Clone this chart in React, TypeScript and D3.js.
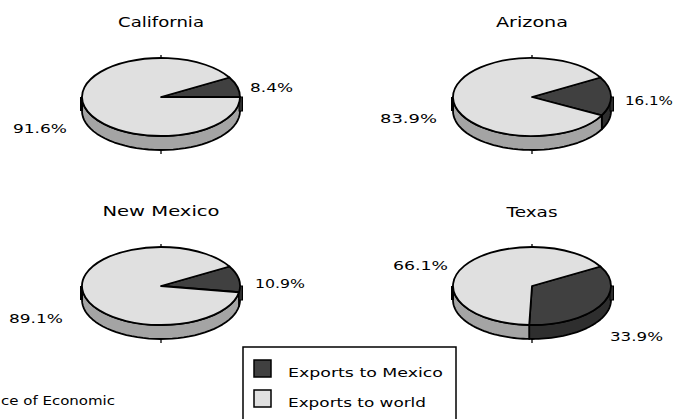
import React from "react";
import * as d3 from "d3";

const states = ["California", "Arizona", "New Mexico", "Texas"];
const exportsToMexico = [8.4, 16.1, 10.9, 33.9];
const exportsToWorld = [91.6, 83.9, 89.1, 66.1];
const seriesNames = ["Exports to Mexico", "Exports to world"];
const sourceText = "ce of Economic";

const W = 678;
const H = 419;
const RX = 79;
const RY = 39;
const DEPTH = 14;
const START = Math.PI / 3;

const topColors = ["#404040", "#e0e0e0"];
const sideColors = ["#2e2e2e", "#a4a4a4"];
const FONT = "'DejaVu Sans', Verdana, sans-serif";

// layout only (positions of panels and text)
const panelLayout = [
  { cx: 161, cy: 97, titleY: 27, titleLen: 86, mx: 250, my: 92, mLen: 43, wx: 13, wy: 133, wLen: 54 },
  { cx: 532, cy: 97, titleY: 27, titleLen: 72, mx: 625, my: 105, mLen: 48, wx: 380, wy: 123, wLen: 57 },
  { cx: 161, cy: 286, titleY: 216, titleLen: 117, mx: 255, my: 288, mLen: 50, wx: 9, wy: 323, wLen: 54 },
  { cx: 532, cy: 286, titleY: 217, titleLen: 51, mx: 610, my: 341, mLen: 53, wx: 393, wy: 270, wLen: 55 },
];

const pie = d3
  .pie<number>()
  .sort(null)
  .value((d) => d)
  .startAngle(START)
  .endAngle(START + 2 * Math.PI);

const arc = d3.arc<d3.PieArcDatum<number>>().innerRadius(0).outerRadius(RX);

function ex(t: number) {
  return Math.sin(t) * RX;
}
function ey(t: number) {
  return -Math.cos(t) * RY;
}

function sidePath(a: number, b: number) {
  const n = 40;
  const pts: [number, number][] = [];
  for (let i = 0; i <= n; i++) {
    const t = a + ((b - a) * i) / n;
    pts.push([ex(t), ey(t)]);
  }
  for (let i = n; i >= 0; i--) {
    const t = a + ((b - a) * i) / n;
    pts.push([ex(t), ey(t) + DEPTH]);
  }
  return d3.line()(pts)! + "Z";
}

function Pie3D({ i }: { i: number }) {
  const L = panelLayout[i];
  const arcs = pie([exportsToMexico[i], exportsToWorld[i]]);
  const frontA = Math.PI / 2;
  const frontB = (3 * Math.PI) / 2;
  const sides = arcs
    .map((d, k) => {
      const a = Math.max(d.startAngle, frontA);
      const b = Math.min(d.endAngle, frontB);
      return b > a ? { k, a, b } : null;
    })
    .filter(Boolean) as { k: number; a: number; b: number }[];
  const rightSideColor = sides.length ? sideColors[sides[0].k] : sideColors[1];
  return (
    <g>
      <text
        x={L.cx}
        y={L.titleY}
        textAnchor="middle"
        fontSize={14}
        fontFamily={FONT}
        textLength={L.titleLen}
        lengthAdjust="spacingAndGlyphs"
      >
        {states[i]}
      </text>
      <g transform={`translate(${L.cx},${L.cy})`}>
        <line x1={0} x2={0} y1={-RY - 3} y2={-RY + 2} stroke="#000" strokeWidth={1.3} />
        <line x1={0} x2={0} y1={RY + DEPTH - 3} y2={RY + DEPTH + 4} stroke="#000" strokeWidth={1.3} />
        {sides.map((s) => (
          <path
            key={"s" + s.k}
            d={sidePath(s.a, s.b)}
            fill={sideColors[s.k]}
            stroke="#000"
            strokeWidth={1.8}
            strokeLinejoin="round"
          />
        ))}
        <rect x={-RX - 2} y={0} width={3} height={DEPTH} fill="#000" />
        <rect x={RX - 1} y={0} width={3.5} height={DEPTH} fill={rightSideColor} stroke="#000" strokeWidth={1} />
        <g transform={`scale(1,${RY / RX})`}>
          {arcs.map((d, k) => (
            <path
              key={"t" + k}
              d={arc(d)!}
              fill={topColors[k]}
              stroke="#000"
              strokeWidth={1.8}
              vectorEffect="non-scaling-stroke"
              strokeLinejoin="round"
            />
          ))}
        </g>
      </g>
      <text x={L.mx} y={L.my} fontSize={13} fontFamily={FONT} textLength={L.mLen} lengthAdjust="spacingAndGlyphs">
        {exportsToMexico[i].toFixed(1)}%
      </text>
      <text x={L.wx} y={L.wy} fontSize={13} fontFamily={FONT} textLength={L.wLen} lengthAdjust="spacingAndGlyphs">
        {exportsToWorld[i].toFixed(1)}%
      </text>
    </g>
  );
}

export default function App() {
  const legendLens = [155, 138];
  return (
    <svg
      width={W}
      height={H}
      viewBox={`0 0 ${W} ${H}`}
      style={{ position: "absolute", left: 0, top: 0, background: "#fff" }}
    >
      <rect x={0} y={0} width={W} height={H} fill="#fff" />
      {states.map((_, i) => (
        <Pie3D key={i} i={i} />
      ))}
      <rect x={243} y={347} width={213} height={90} fill="#fff" stroke="#000" strokeWidth={1.5} />
      {seriesNames.map((name, k) => (
        <g key={name}>
          <rect
            x={254}
            y={360 + k * 30}
            width={17}
            height={17}
            fill={topColors[k]}
            stroke="#000"
            strokeWidth={1.5}
          />
          <text
            x={288}
            y={377 + k * 30}
            fontSize={13}
            fontFamily={FONT}
            textLength={legendLens[k]}
            lengthAdjust="spacingAndGlyphs"
          >
            {name}
          </text>
        </g>
      ))}
      <text x={1} y={405} fontSize={13} fontFamily={FONT} textLength={114} lengthAdjust="spacingAndGlyphs">
        {sourceText}
      </text>
    </svg>
  );
}
